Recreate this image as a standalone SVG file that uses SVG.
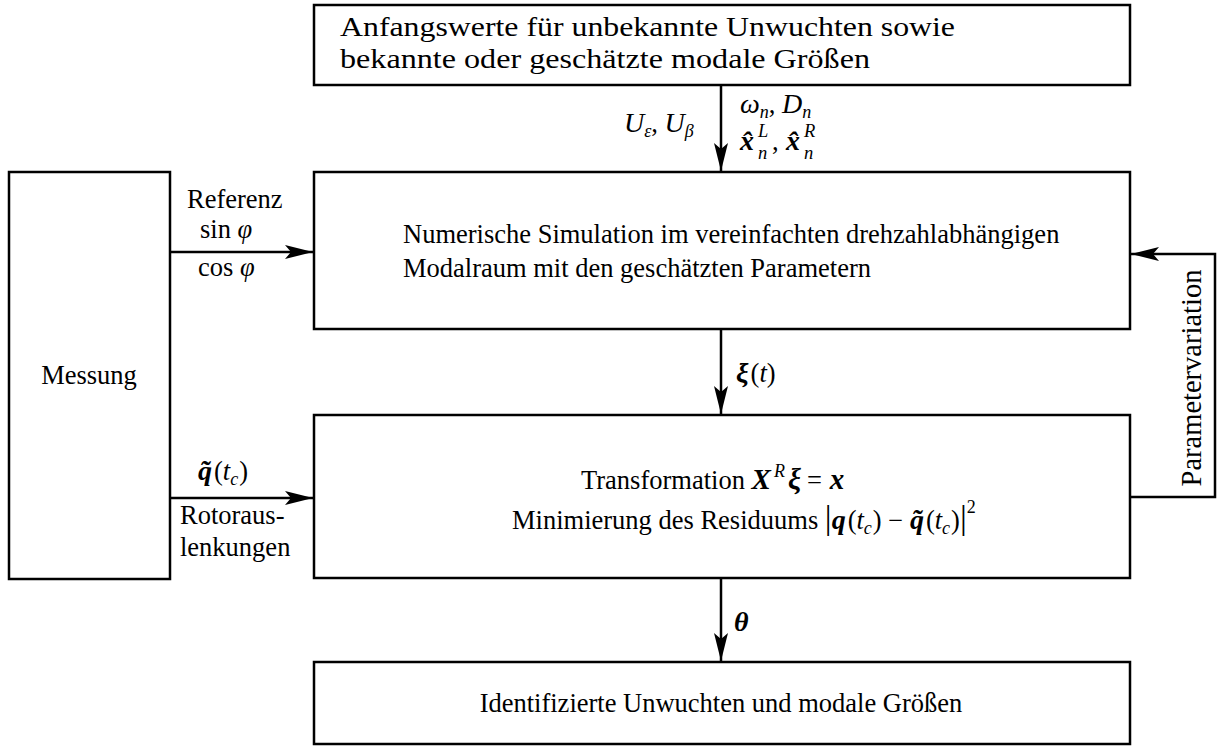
<svg xmlns="http://www.w3.org/2000/svg" width="1217" height="747" viewBox="0 0 1217 747">
<style>
text{font-family:"Liberation Serif","Times New Roman",serif;font-size:26.5px;fill:#000}
.box{fill:#fff;stroke:#000;stroke-width:2.5}
.ln{fill:none;stroke:#000;stroke-width:2.5}
.i{font-style:italic}
.b{font-style:italic;font-weight:bold}
.s{font-size:18px}
.m{font-size:28px}
.sm{font-size:18.5px}
.big{font-size:28px}
</style>
<defs>
<marker id="ah" markerUnits="userSpaceOnUse" markerWidth="30" markerHeight="14" refX="28" refY="7" orient="auto">
<path d="M0,0 L28,7 L0,14 L6,7 Z" fill="#000"/>
</marker>
</defs>
<rect x="0" y="0" width="1217" height="747" fill="#fff"/>
<g id="connectors">
<line class="ln" x1="721" y1="85" x2="721" y2="171" marker-end="url(#ah)"/>
<line class="ln" x1="721" y1="329" x2="721" y2="414" marker-end="url(#ah)"/>
<line class="ln" x1="721" y1="578" x2="721" y2="661" marker-end="url(#ah)"/>
<line class="ln" x1="170" y1="252" x2="313" y2="252" marker-end="url(#ah)"/>
<line class="ln" x1="170" y1="498" x2="313" y2="498" marker-end="url(#ah)"/>
<polyline class="ln" points="1130,497 1215,497 1215,254 1131,254" marker-end="url(#ah)"/>
</g>
<g id="labels">
<text x="624" y="132"><tspan class="i m">U</tspan><tspan class="i s" dy="5">ε</tspan><tspan dy="-5">,  </tspan><tspan class="i m">U</tspan><tspan class="i s" dy="5">β</tspan></text>
<text x="740" y="113"><tspan class="i m">ω</tspan><tspan class="i s" dy="5">n</tspan><tspan dy="-5">,  </tspan><tspan class="i m">D</tspan><tspan class="i s" dy="5">n</tspan></text>
<text x="740" y="150" class="b m">x̂</text>
<text x="758" y="137" class="i sm">L</text>
<text x="758" y="159" class="i sm">n</text>
<text x="772" y="150">,</text>
<text x="786" y="150" class="b m">x̂</text>
<text x="804" y="137" class="i sm">R</text>
<text x="804" y="159" class="i sm">n</text>
<text x="187" y="208">Referenz</text>
<text x="200" y="238">sin <tspan class="i">φ</tspan></text>
<text x="198" y="276">cos <tspan class="i">φ</tspan></text>
<text x="198" y="480"><tspan class="b m">q̃</tspan><tspan dx="2">(</tspan><tspan class="i">t</tspan><tspan class="i s" dy="5">c</tspan><tspan dy="-5" dx="1">)</tspan></text>
<text x="180" y="524">Rotoraus-</text>
<text x="180" y="556">lenkungen</text>
<text x="736" y="382"><tspan class="b m">ξ</tspan><tspan dx="2">(</tspan><tspan class="i">t</tspan>)</text>
<text x="734" y="631" class="b m">θ</text>
<text transform="translate(1201,378) rotate(-90)" text-anchor="middle" style="font-size:28.5px">Parametervariation</text>
</g>
<g id="n_top">
<rect class="box" x="314" y="5" width="816" height="80"/>
<text x="340" y="36" class="big" textLength="615" lengthAdjust="spacingAndGlyphs">Anfangswerte für unbekannte Unwuchten sowie</text>
<text x="340" y="68" class="big" textLength="530" lengthAdjust="spacingAndGlyphs">bekannte oder geschätzte modale Größen</text>
</g>
<g id="n_sim">
<rect class="box" x="314" y="172" width="816" height="157"/>
<text x="403" y="243">Numerische Simulation im vereinfachten drehzahlabhängigen</text>
<text x="403" y="277">Modalraum mit den geschätzten Parametern</text>
</g>
<g id="n_min">
<rect class="box" x="314" y="415" width="816" height="163"/>
<text x="581" y="489">Transformation <tspan class="b" font-size="29">X</tspan><tspan class="i s" dx="3" dy="-12">R</tspan><tspan class="b" font-size="29" dx="3" dy="12">ξ</tspan><tspan dx="6">=</tspan><tspan class="b" font-size="29" dx="8">x</tspan></text>
<text x="512" y="529">Minimierung des Residuums <tspan font-size="34">|</tspan><tspan class="b m">q</tspan><tspan dx="2">(</tspan><tspan class="i">t</tspan><tspan class="i s" dy="5">c</tspan><tspan dy="-5" dx="1">) − </tspan><tspan class="b m">q̃</tspan><tspan dx="2">(</tspan><tspan class="i">t</tspan><tspan class="i s" dy="5">c</tspan><tspan dy="-5" dx="1">)</tspan><tspan font-size="34">|</tspan><tspan class="s" dy="-16">2</tspan></text>
</g>
<g id="n_res">
<rect class="box" x="314" y="662" width="816" height="82"/>
<text x="721" y="712" text-anchor="middle">Identifizierte Unwuchten und modale Größen</text>
</g>
<g id="n_mess">
<rect class="box" x="9" y="172" width="161" height="407"/>
<text x="89" y="384" text-anchor="middle">Messung</text>
</g>
</svg>
